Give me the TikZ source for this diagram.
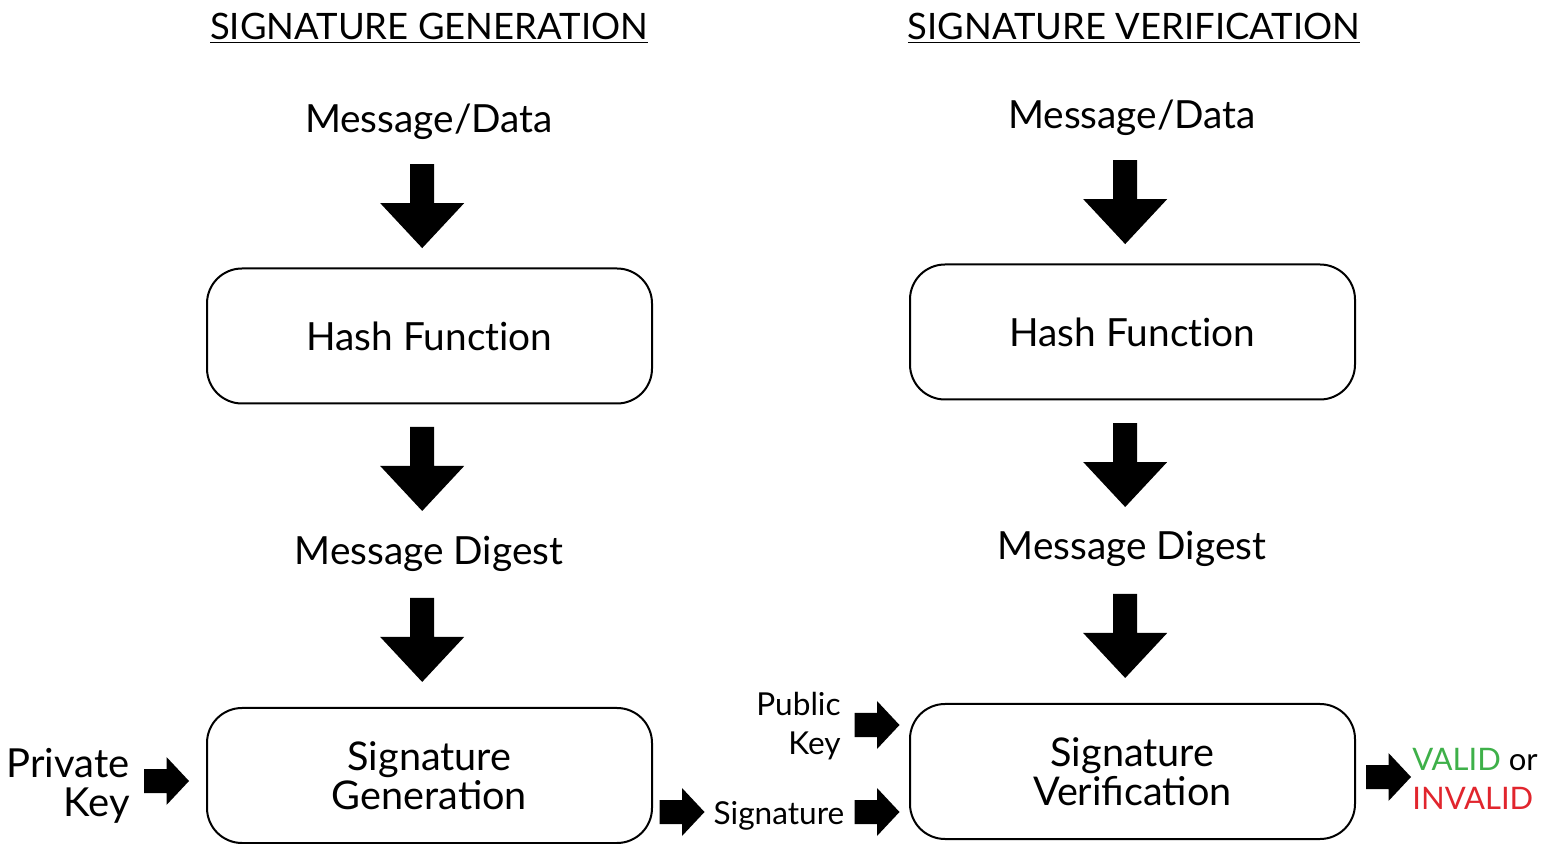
\documentclass[tikz,border=0pt]{standalone}
\usepackage{fontspec}
\setmainfont{Lato}
\usetikzlibrary{calc, positioning}
\definecolor{ValidGreen}{RGB}{62,176,73}
\definecolor{InvalidRed}{RGB}{225,37,45}
\tikzset{
  x=0.5pt, y=-0.5pt,
  % testi
  title/.style={font=\fontsize{18.2}{20}\selectfont, inner sep=0},
  label big/.style={font=\fontsize{19.4}{19.5}\selectfont, inner sep=0},
  label small/.style={font=\fontsize{15.8}{19.5}\selectfont, inner sep=0},
  % blocchi
  box/.style={draw, line width=1pt, rounded corners=17.5pt, minimum width=222.5pt,
    minimum height=67.5pt, align=center, font=\fontsize{19.8}{19.5}\selectfont},
  box hash/.style={box, font=\fontsize{19.4}{19.5}\selectfont\addfontfeatures{Ligatures=NoCommon}},
  % frecce piene
  down arrow/.pic={\fill (-12,-42) -- (12,-42) -- (12,-3) -- (42,-3) -- (0,42)
    -- (-42,-3) -- (-12,-3) -- cycle;},
  right arrow/.pic={\fill (-22.5,-12) -- (0,-12) -- (0,-24) -- (22.5,0) -- (0,24)
    -- (0,12) -- (-22.5,12) -- cycle;}
}
\begin{document}
\begin{tikzpicture}
  \useasboundingbox (0,0) rectangle (1549,844);
  % generazione della firma
  \node[title] (titleA) at (429,28) {\underline{SIGNATURE GENERATION}};
  \node[label big] (msgA) at (429,122) {Message/Data};
  \node[box hash] (hashA) at (429.5,336) {Hash Function};
  \node[label big] (digA) at (429,554) {Message Digest};
  \node[box] (sigA) at (429.5,775.5) {Signature\\Generation};
  \node[label big, font=\fontsize{20}{19.5}\selectfont, align=right, anchor=east]
    (privA) at (130,786) {Private\\Key};
  \node[label small] (sigOut) at (779,816) {Signature};
  \path (msgA.center) -- (hashA.center) pic[pos=0.393, xshift=-3.5pt]{down arrow};
  \path (hashA.center) -- (digA.center) pic[pos=0.61, xshift=-3.5pt]{down arrow};
  \path (digA.center) -- (sigA.center) pic[pos=0.388, xshift=-3.5pt]{down arrow};
  \pic at ($(sigA.west)+(-39.5,5.5)$) {right arrow};
  \pic at ($(sigA.east)+(29,36.5)$) {right arrow};
  % verifica della firma
  \node[title] (titleB) at (1134,28) {\underline{SIGNATURE VERIFICATION}};
  \node[label big] (msgB) at (1132,118) {Message/Data};
  \node[box hash] (hashB) at (1132.5,332) {Hash Function};
  \node[label big] (digB) at (1132,549) {Message Digest};
  \node[box] (sigB) at (1132.5,771.5) {Signature\\Verification};
  \node[label small, align=right, anchor=east] (pubB) at (841,726) {Public\\Key};
  \node[label small, font=\fontsize{15.5}{19.5}\selectfont, align=left, anchor=west]
    (result) at (1412,779)
    {\textcolor{ValidGreen}{VALID} or\\\textcolor{InvalidRed}{INVALID}};
  \path (msgB.center) -- (hashB.center) pic[pos=0.393, xshift=-3.5pt]{down arrow};
  \path (hashB.center) -- (digB.center) pic[pos=0.613, xshift=-3.5pt]{down arrow};
  \path (digB.center) -- (sigB.center) pic[pos=0.391, xshift=-3.5pt]{down arrow};
  \pic at ($(sigB.west)+(-32,-46.5)$) {right arrow};
  \pic at ($(sigB.west)+(-32,40.5)$) {right arrow};
  \pic at ($(sigB.east)+(32.5,5.5)$) {right arrow};
\end{tikzpicture}
\end{document}
